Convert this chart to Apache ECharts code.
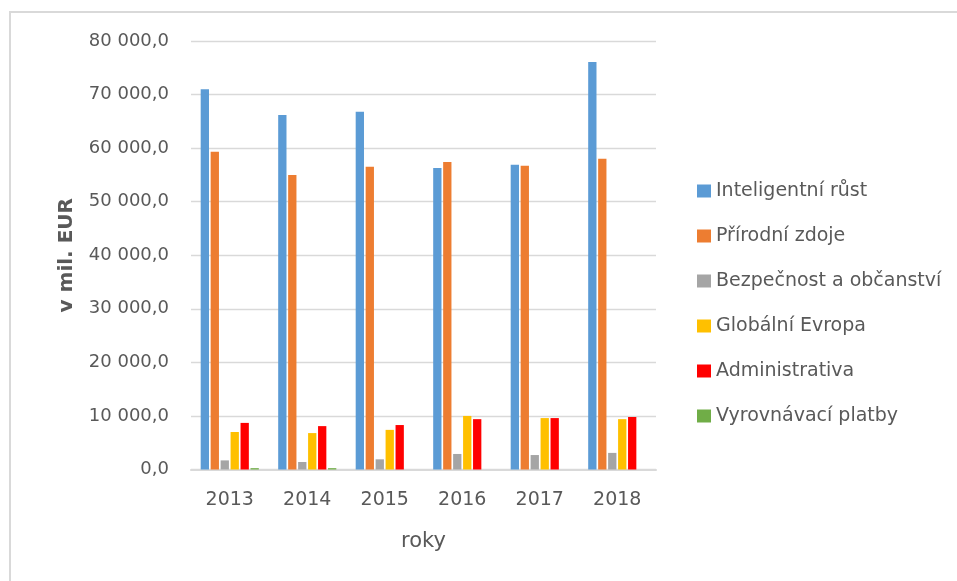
<!DOCTYPE html>
<html>
<head>
<meta charset="utf-8">
<script src="https://cdn.jsdelivr.net/npm/echarts@6/dist/echarts.min.js"></script>
<style>
	html, body { margin: 0; padding: 0; background: #fff; overflow: hidden; }
	#frame { position: absolute; left: 9px; top: 11px; width: 1000px; height: 1000px; border-left: 2px solid #d9d9d9; border-top: 2px solid #d9d9d9; }
	#chart { position: absolute; left: 0; top: 0; width: 957px; height: 581px; }
</style>
</head>
<body>
<div id="frame"></div>
<div id="chart"></div>
<script>
// roky (osa x)
var years = ['2013', '2014', '2015', '2016', '2017', '2018']
// v mil. EUR
var inteligentniRust = [71000, 66200, 66800, 56300, 56900, 76100]
var prirodniZdroje = [59300, 55000, 56500, 57400, 56700, 58000]
var bezpecnost = [1700, 1400, 1900, 2900, 2700, 3100]
var globalniEvropa = [7000, 6800, 7400, 10000, 9600, 9400]
var administrativa = [8700, 8100, 8300, 9400, 9600, 9800]
var vyrovnavaciPlatby = [250, 250, 0, 0, 0, 0]

var seriesNames = ['Inteligentní růst', 'Přírodní zdoje', 'Bezpečnost a občanství', 'Globální Evropa', 'Administrativa', 'Vyrovnávací platby']
var seriesData = [inteligentniRust, prirodniZdroje, bezpecnost, globalniEvropa, administrativa, vyrovnavaciPlatby]
var colors = ['#5b9bd5', '#ed7d31', '#a5a5a5', '#ffc000', '#ff0000', '#70ad47']

var font = 'DejaVu Sans'
var textColor = '#595959'

// 80 000,0
function fmt(v) {
	var s = String(Math.round(v)).replace(/\B(?=(\d{3})+(?!\d))/g, ' ')
	return s + ',0'
}

var chart = echarts.init(document.getElementById('chart'))
chart.setOption({
	animation: false,
	color: colors,
	textStyle: { fontFamily: font },
	grid: { left: 191, right: 301, top: 41, bottom: 111.5 },
	legend: {
		orient: 'vertical',
		left: 692,
		top: 176,
		itemWidth: 14,
		itemHeight: 13,
		itemGap: 25,
		icon: 'rect',
		textStyle: { fontFamily: font, fontSize: 19, lineHeight: 20, color: textColor },
		data: seriesNames
	},
	xAxis: {
		type: 'category',
		data: years,
		name: 'roky',
		nameLocation: 'middle',
		nameGap: 61,
		nameTextStyle: { fontFamily: font, fontSize: 21, lineHeight: 22, color: textColor },
		axisLine: { lineStyle: { color: '#d9d9d9', width: 2 } },
		axisTick: { show: false },
		axisLabel: { margin: 21, fontFamily: font, fontSize: 19, lineHeight: 20, color: textColor }
	},
	yAxis: {
		type: 'value',
		min: 0,
		max: 80000,
		interval: 10000,
		name: 'v mil. EUR',
		nameLocation: 'middle',
		nameRotate: 90,
		nameGap: 114,
		nameTextStyle: { fontFamily: font, fontSize: 20, fontWeight: 'bold', color: textColor },
		axisLine: { show: false },
		axisTick: { show: false },
		splitLine: { lineStyle: { color: '#d9d9d9', width: 1.3 } },
		axisLabel: { margin: 22, fontFamily: font, fontSize: 18, color: textColor, formatter: fmt }
	},
	series: seriesNames.map(function(n, i) {
		return {
			name: n,
			type: 'bar',
			data: seriesData[i],
			barCategoryGap: '25%',
			barGap: '20%'
		}
	})
})
</script>
</body>
</html>
